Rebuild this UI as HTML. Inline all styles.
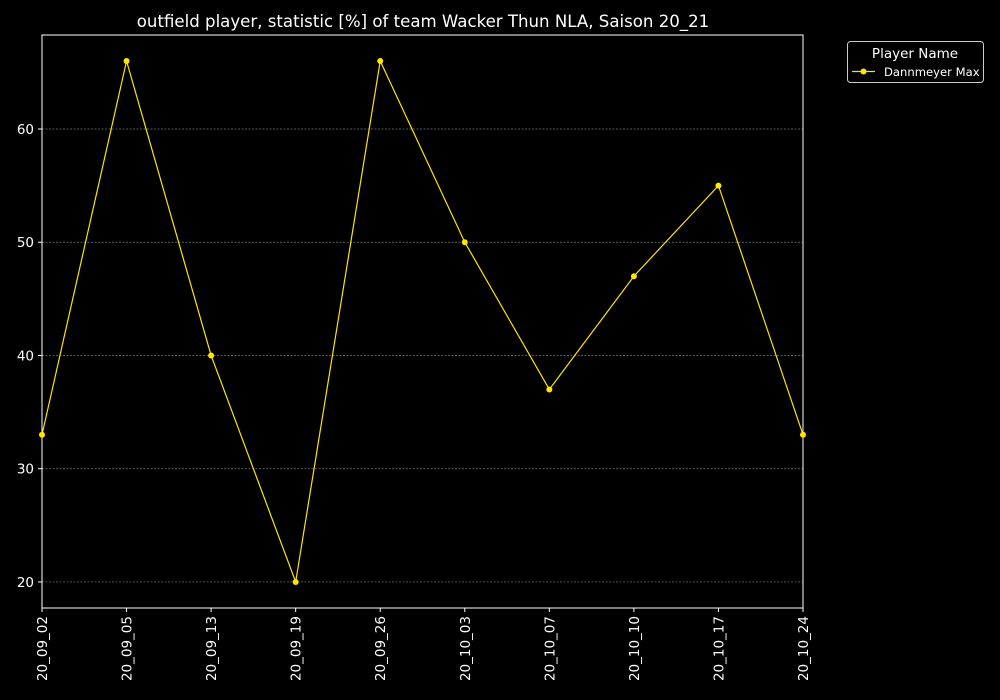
<!DOCTYPE html>
<html><head><meta charset="utf-8"><style>
body{margin:0;background:#000;width:1000px;height:700px;overflow:hidden}
svg{display:block;font-family:"DejaVu Sans","Liberation Sans",sans-serif}
</style></head><body>
<svg id="c" width="1000" height="700">
<rect width="1000" height="700" fill="#000"/>
<text x="423" y="27" fill="#fff" font-size="16.6" text-anchor="middle">outfield player, statistic [%] of team Wacker Thun NLA, Saison 20_21</text>
<g id="grid"></g><g id="axes"></g><g id="series"></g>
<g>
<rect x="847.5" y="41.5" width="136" height="41" rx="3" fill="#000" stroke="#ccc" stroke-width="1"/>
<text x="915" y="58" fill="#fff" font-size="13.5" text-anchor="middle">Player Name</text>
<line x1="852" y1="71.5" x2="875" y2="71.5" stroke="#ffe500" stroke-width="1.2"/>
<circle cx="863.5" cy="71.5" r="3" fill="#ffe500"/>
<text x="884" y="76" fill="#fff" font-size="11.6">Dannmeyer Max</text>
</g>
</svg>
<script>
const categories=["20_09_02","20_09_05","20_09_13","20_09_19","20_09_26","20_10_03","20_10_07","20_10_10","20_10_17","20_10_24"];
const values=[33,66,40,20,66,50,37,47,55,33];
const yTicks=[20,30,40,50,60];
const ns="http://www.w3.org/2000/svg";
const L=42,R=803,T=35,B=608,ymin=17.7,ymax=68.3;
const xs=i=>L+i*(R-L)/(categories.length-1);
const ys=v=>B-(v-ymin)/(ymax-ymin)*(B-T);
function mk(t,a,p){const e=document.createElementNS(ns,t);for(const k in a)e.setAttribute(k,a[k]);p.appendChild(e);return e;}
const g=document.getElementById('grid'),ax=document.getElementById('axes'),s=document.getElementById('series');
yTicks.forEach(v=>{
 const y=ys(v);
 const gl=mk('line',{x1:L,x2:R,y1:y,y2:y,stroke:'#777','stroke-width':0.7,'stroke-dasharray':'2,1.5'},g);
 
 
 mk('line',{x1:L-4,x2:L,y1:y,y2:y,stroke:'#fff'},ax);
 const t=mk('text',{x:L-8,y:y+5,fill:'#fff','font-size':13.5,'text-anchor':'end'},ax);t.textContent=v;
 
 
});
const fr=mk('rect',{x:L,y:T,width:R-L,height:B-T,fill:'none',stroke:'#fff','stroke-width':1},ax);


categories.forEach((c,i)=>{
 const x=xs(i);
 mk('line',{x1:x,x2:x,y1:B,y2:B+4,stroke:'#fff'},ax);
 const t=mk('text',{x:0,y:0,fill:'#fff','font-size':13.5,'text-anchor':'end',transform:`translate(${x+5},${B+8}) rotate(-90)`},ax);t.textContent=c;
 
 
});
const pl=mk('polyline',{points:values.map((v,i)=>xs(i)+','+ys(v)).join(' '),fill:'none',stroke:'#ffe500','stroke-width':1.2},s);


values.forEach((v,i)=>{
 const c=mk('circle',{cx:xs(i),cy:ys(v),r:3,fill:'#ffe500'},s);
 
 
});
</script>
</body></html>
